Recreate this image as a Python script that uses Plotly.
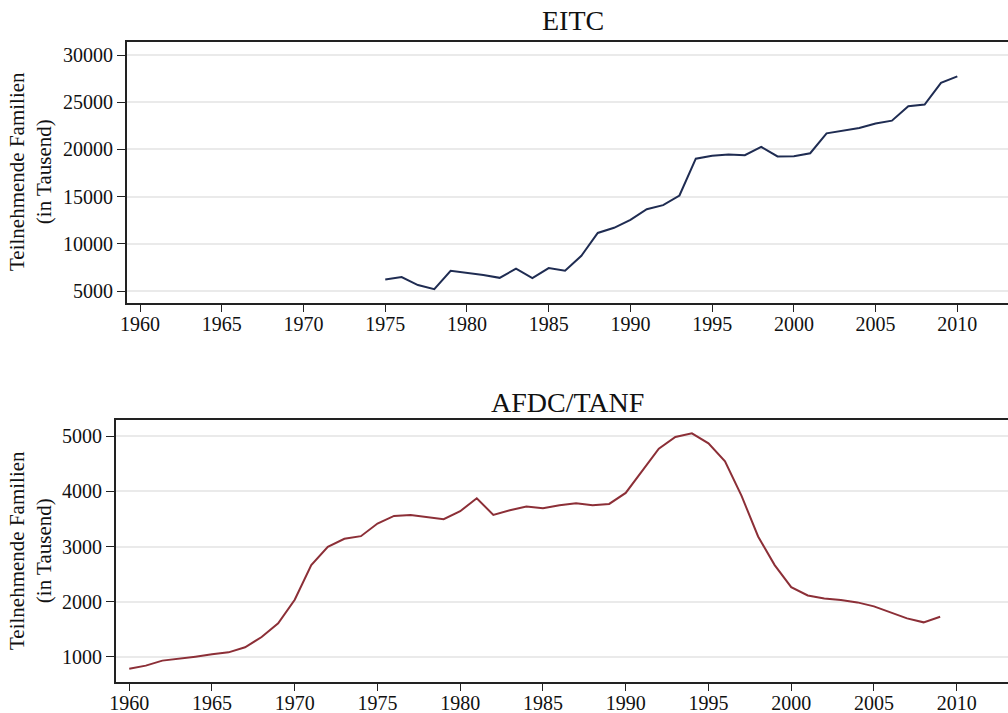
import plotly.graph_objects as go

eitc_years = list(range(1975, 2011))
eitc_values = [6215, 6470, 5630, 5190, 7135, 6950, 6700, 6395, 7368, 6376,
               7432, 7156, 8738, 11148, 11696, 12542, 13665, 14097, 15117, 19017,
               19334, 19464, 19391, 20273, 19259, 19277, 19593, 21703, 22024, 22270,
               22752, 23042, 24584, 24757, 27041, 27740]

afdc_years = list(range(1960, 2010))
afdc_values = [787, 843, 934, 964, 1006, 1048, 1084, 1175, 1361, 1608,
               2036, 2663, 2994, 3139, 3187, 3416, 3554, 3572, 3530, 3494,
               3639, 3873, 3572, 3657, 3723, 3693, 3747, 3783, 3747, 3771,
               3970, 4367, 4771, 4982, 5048, 4867, 4542, 3916, 3181, 2663,
               2265, 2114, 2060, 2030, 1988, 1916, 1801, 1699, 1627, 1729]

year_ticks = list(range(1960, 2015, 5))
eitc_yticks = [5000, 10000, 15000, 20000, 25000, 30000]
afdc_yticks = [1000, 2000, 3000, 4000, 5000]

FONT = "Liberation Serif"
W, H = 1008, 713

fig = go.Figure()
fig.add_trace(go.Scatter(x=eitc_years, y=eitc_values, mode="lines",
                         line=dict(color="#1f2c52", width=2), xaxis="x", yaxis="y",
                         showlegend=False))
fig.add_trace(go.Scatter(x=afdc_years, y=afdc_values, mode="lines",
                         line=dict(color="#8c2f37", width=2), xaxis="x2", yaxis="y2",
                         showlegend=False))

common_x = dict(tickmode="array", tickvals=year_ticks, ticks="outside", ticklen=7,
                tickwidth=1.3, tickcolor="#222", showline=True, mirror=True,
                linecolor="#222", linewidth=2, showgrid=False, zeroline=False,
                ticklabelstandoff=-5,
                tickfont=dict(family=FONT, size=20, color="#111"), automargin=False)
common_y = dict(tickmode="array", ticks="outside", ticklen=8, tickwidth=1.3,
                tickcolor="#222", showline=True, mirror=False, linecolor="#222",
                linewidth=2, showgrid=True, gridcolor="#eaeaea", gridwidth=1.5,
                zeroline=False, tickformat="d",
                tickfont=dict(family=FONT, size=20, color="#111"),
                automargin=False)

fig.update_layout(
    width=W, height=H,
    margin=dict(l=0, r=0, t=0, b=0),
    paper_bgcolor="white", plot_bgcolor="white",
    xaxis=dict(common_x, domain=[127 / W, 1.0], range=[1959.2, 2013.1], anchor="y"),
    yaxis=dict(common_y, domain=[1 - 303 / H, 1 - 42 / H], range=[3729, 31377],
               tickvals=eitc_yticks, anchor="x"),
    xaxis2=dict(common_x, domain=[116 / W, 1.0], range=[1959.2, 2013.1], anchor="y2"),
    yaxis2=dict(common_y, domain=[1 - 682 / H, 1 - 420 / H], range=[547, 5290],
                tickvals=afdc_yticks, anchor="x2"),
    annotations=[
        dict(text="EITC", x=573 / W, y=1 - 20 / H, xref="paper", yref="paper",
             showarrow=False, font=dict(family=FONT, size=28, color="#111"),
             xanchor="center", yanchor="middle"),
        dict(text="AFDC/TANF", x=567 / W, y=1 - 403 / H, xref="paper", yref="paper",
             showarrow=False, font=dict(family=FONT, size=28, color="#111"),
             xanchor="center", yanchor="middle"),
        dict(text="Teilnehmende Familien<br>(in Tausend)", x=30 / W, y=1 - 172 / H,
             xref="paper", yref="paper", showarrow=False, textangle=-90,
             font=dict(family=FONT, size=21, color="#111"),
             xanchor="center", yanchor="middle"),
        dict(text="Teilnehmende Familien<br>(in Tausend)", x=30 / W, y=1 - 551 / H,
             xref="paper", yref="paper", showarrow=False, textangle=-90,
             font=dict(family=FONT, size=21, color="#111"),
             xanchor="center", yanchor="middle"),
    ],
)

fig.write_html("out.html", config={"displayModeBar": False},
               post_script="document.body.style.margin='0';"
                           "document.body.style.overflow='hidden';")
